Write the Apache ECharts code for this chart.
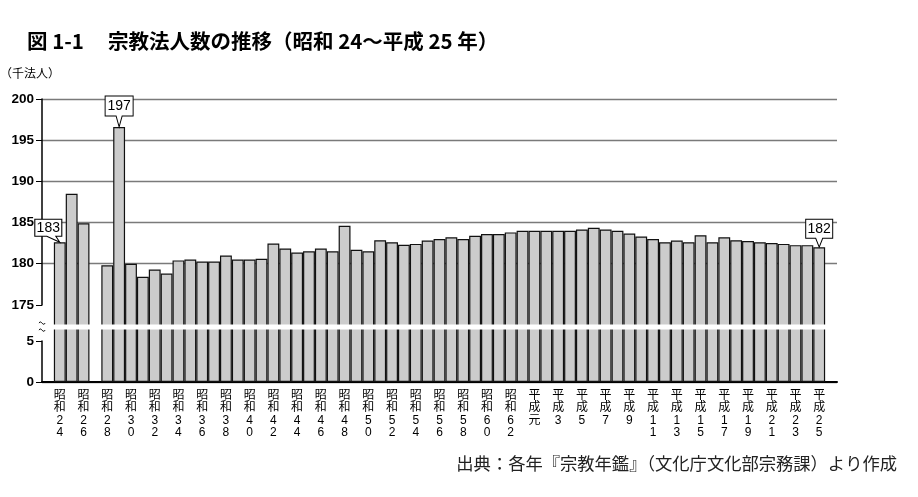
<!DOCTYPE html>
<html><head><meta charset="utf-8">
<script src="https://cdn.jsdelivr.net/npm/echarts@6/dist/echarts.min.js"></script>
<style>html,body{margin:0;padding:0;background:#fff}#c{width:918px;height:497px}</style>
</head><body><div id="c"></div>
<script>
// Categories (fiscal years)
const years = [
  '昭和24','昭和25','昭和26','昭和27','昭和28','昭和29','昭和30','昭和31','昭和32','昭和33',
  '昭和34','昭和35','昭和36','昭和37','昭和38','昭和39','昭和40','昭和41','昭和42','昭和43',
  '昭和44','昭和45','昭和46','昭和47','昭和48','昭和49','昭和50','昭和51','昭和52','昭和53',
  '昭和54','昭和55','昭和56','昭和57','昭和58','昭和59','昭和60','昭和61','昭和62','昭和63',
  '平成元','平成2','平成3','平成4','平成5','平成6','平成7','平成8','平成9','平成10',
  '平成11','平成12','平成13','平成14','平成15','平成16','平成17','平成18','平成19','平成20',
  '平成21','平成22','平成23','平成24','平成25'
];
// Number of religious corporations (thousand)
const values = [
  182.6,188.5,184.9,null,179.8,196.6,180.0,178.4,179.3,178.8,
  180.4,180.5,180.25,180.25,181.0,180.5,180.5,180.6,182.45,181.85,
  181.35,181.5,181.85,181.5,184.6,181.7,181.5,182.85,182.6,182.3,
  182.4,182.8,183.0,183.2,183.0,183.4,183.6,183.6,183.8,184.0,
  184.0,184.0,184.0,184.0,184.15,184.35,184.15,184.0,183.65,183.3,
  183.0,182.6,182.8,182.6,183.45,182.6,183.2,182.85,182.75,182.6,
  182.5,182.4,182.25,182.25,182.0
];
// Y tick labels shown
const yTickLabels = [0,5,175,180,185,190,195,200];
// Years with value callouts
const calloutYears = ['昭和24','昭和29','平成25'];

const axisCats = [''].concat(years, ['']);

const calloutShapes = {
  '昭和24': {path:'path://M0,0 L27,0 L27,17 L21,17 L25,23 L12,17 L0,17 Z', size:[27,23], offset:[-11.5,-11.5], labelOffset:[0,-3]},
  '昭和29': {path:'path://M0,0 L28,0 L28,20 L17,20 L14,31 L11,20 L0,20 Z', size:[28,31], offset:[0,-15.5], labelOffset:[0,-5.5]},
  '平成25': {path:'path://M0,0 L27,0 L27,19 L17,19 L13.5,28 L10,19 L0,19 Z', size:[27,28], offset:[0,-14], labelOffset:[0,-4.5]}
};

const markData = calloutYears.map(function(y){
  const i = years.indexOf(y);
  const s = calloutShapes[y];
  return {
    coord: [i + 1, values[i]],
    value: Math.round(values[i]),
    symbol: s.path,
    symbolSize: s.size,
    symbolOffset: s.offset,
    symbolKeepAspect: false,
    label: {offset: s.labelOffset}
  };
});

const chart = echarts.init(document.getElementById('c'), null, {renderer:'canvas'});
chart.setOption({
  animation: false,
  backgroundColor: '#fff',
  grid: {left: 42, right: 81, top: 99, bottom: 115, containLabel: false},
  xAxis: {
    type: 'category',
    data: axisCats,
    boundaryGap: true,
    axisLine: {show: true, lineStyle: {color: '#000', width: 2}},
    axisTick: {show: false},
    splitLine: {show: false},
    axisLabel: {
      interval: function(idx){ return idx % 2 === 1; },
      margin: 7,
      color: '#000',
      fontSize: 12,
      lineHeight: 12.5,
      fontFamily: '"Liberation Sans", "Noto Sans CJK JP", sans-serif',
      verticalAlign: 'top',
      formatter: function(v){ return v.split('').join('\n'); }
    }
  },
  yAxis: [{
    type: 'value',
    min: 0, max: 200, interval: 5,
    breaks: [{start: 5, end: 175, gap: 4.37}],
    breakArea: {show: false},
    axisLine: {show: true, lineStyle: {color: '#000', width: 1.5}},
    axisTick: {show: true, length: 6, lineStyle: {color: '#000', width: 1}},
    splitLine: {show: true, lineStyle: {color: '#7a7a7a', width: 1.3}},
    axisLabel: {
      color: '#000', fontSize: 13.5, fontWeight: 'bold', margin: 8,
      fontFamily: '"Liberation Sans", Arial, sans-serif',
      formatter: function(v){ return yTickLabels.indexOf(Math.round(v*100)/100) >= 0 ? String(Math.round(v)) : ''; }
    }
  }, {
    type: 'value',
    position: 'left',
    min: 0, max: 200, interval: 5,
    breaks: [{start: 6.42, end: 172.66, gap: 0.61}],
    breakArea: {
      show: true,
      itemStyle: {color: '#fff', borderColor: '#fff', borderWidth: 0, opacity: 1},
      zigzagAmplitude: 0,
      expandOnClick: false
    },
    axisLine: {show: false},
    axisTick: {show: false},
    splitLine: {show: false},
    axisLabel: {show: false}
  }],
  series: [{
    type: 'bar',
    yAxisIndex: 0,
    data: [null].concat(values, [null]),
    barCategoryGap: '0%',
    itemStyle: {color: '#cccccc', borderColor: '#111', borderWidth: 1.2},
    markPoint: {
      symbolKeepAspect: false,
      itemStyle: {color: '#fff', borderColor: '#000', borderWidth: 1},
      label: {show: true, position: 'inside', color: '#000', fontSize: 14,
              fontFamily: '"Liberation Sans", Arial, sans-serif',
              formatter: function(p){ return String(p.value); }},
      data: markData,
      z: 10
    }
  }],
  graphic: [
    {type:'text', left: 27, top: 31, style:{text:'図 1-1', font:'bold 20.5px "Noto Sans CJK JP", sans-serif', fill:'#000'}},
    {type:'text', left: 108, top: 31, style:{text:'宗教法人数の推移（昭和 24～平成 25 年）', font:'bold 20.5px "Noto Sans CJK JP", sans-serif', fill:'#000'}},
    {type:'text', left: 0, top: 67, style:{text:'（千法人）', font:'12px "Noto Sans CJK JP", sans-serif', fill:'#000'}},
    {type:'text', right: 21, top: 455, style:{text:'出典：各年『宗教年鑑』（文化庁文化部宗務課）より作成', font:'17.3px "Noto Sans CJK JP", sans-serif', fill:'#222'}}
  ]
});

// Small wavy break mark on the y axis line, placed at the break edges
(function(){
  const x = chart.convertToPixel({xAxisIndex: 0}, 0) - 5.9;
  const yTop = chart.convertToPixel({yAxisIndex: 1}, 172.66);
  const yBot = chart.convertToPixel({yAxisIndex: 1}, 6.42);
  function wave(y){
    return {type:'bezierCurve', z: 200, shape:{x1:x-3, y1:y, x2:x+3, y2:y, cpx1:x-1, cpy1:y-4, cpx2:x+1, cpy2:y+4},
            style:{stroke:'#000', lineWidth:1, fill:null}};
  }
  chart.setOption({graphic: [
    {type:'text', left: 27, top: 31, style:{text:'図 1-1', font:'bold 20.5px "Noto Sans CJK JP", sans-serif', fill:'#000'}},
    {type:'text', left: 108, top: 31, style:{text:'宗教法人数の推移（昭和 24～平成 25 年）', font:'bold 20.5px "Noto Sans CJK JP", sans-serif', fill:'#000'}},
    {type:'text', left: 0, top: 67, style:{text:'（千法人）', font:'12px "Noto Sans CJK JP", sans-serif', fill:'#000'}},
    {type:'text', right: 21, top: 455, style:{text:'出典：各年『宗教年鑑』（文化庁文化部宗務課）より作成', font:'17.3px "Noto Sans CJK JP", sans-serif', fill:'#222'}},
    wave(yTop - 1), wave(yBot + 1)
  ]}, {replaceMerge: ['graphic']});
})();
</script>
</body></html>
